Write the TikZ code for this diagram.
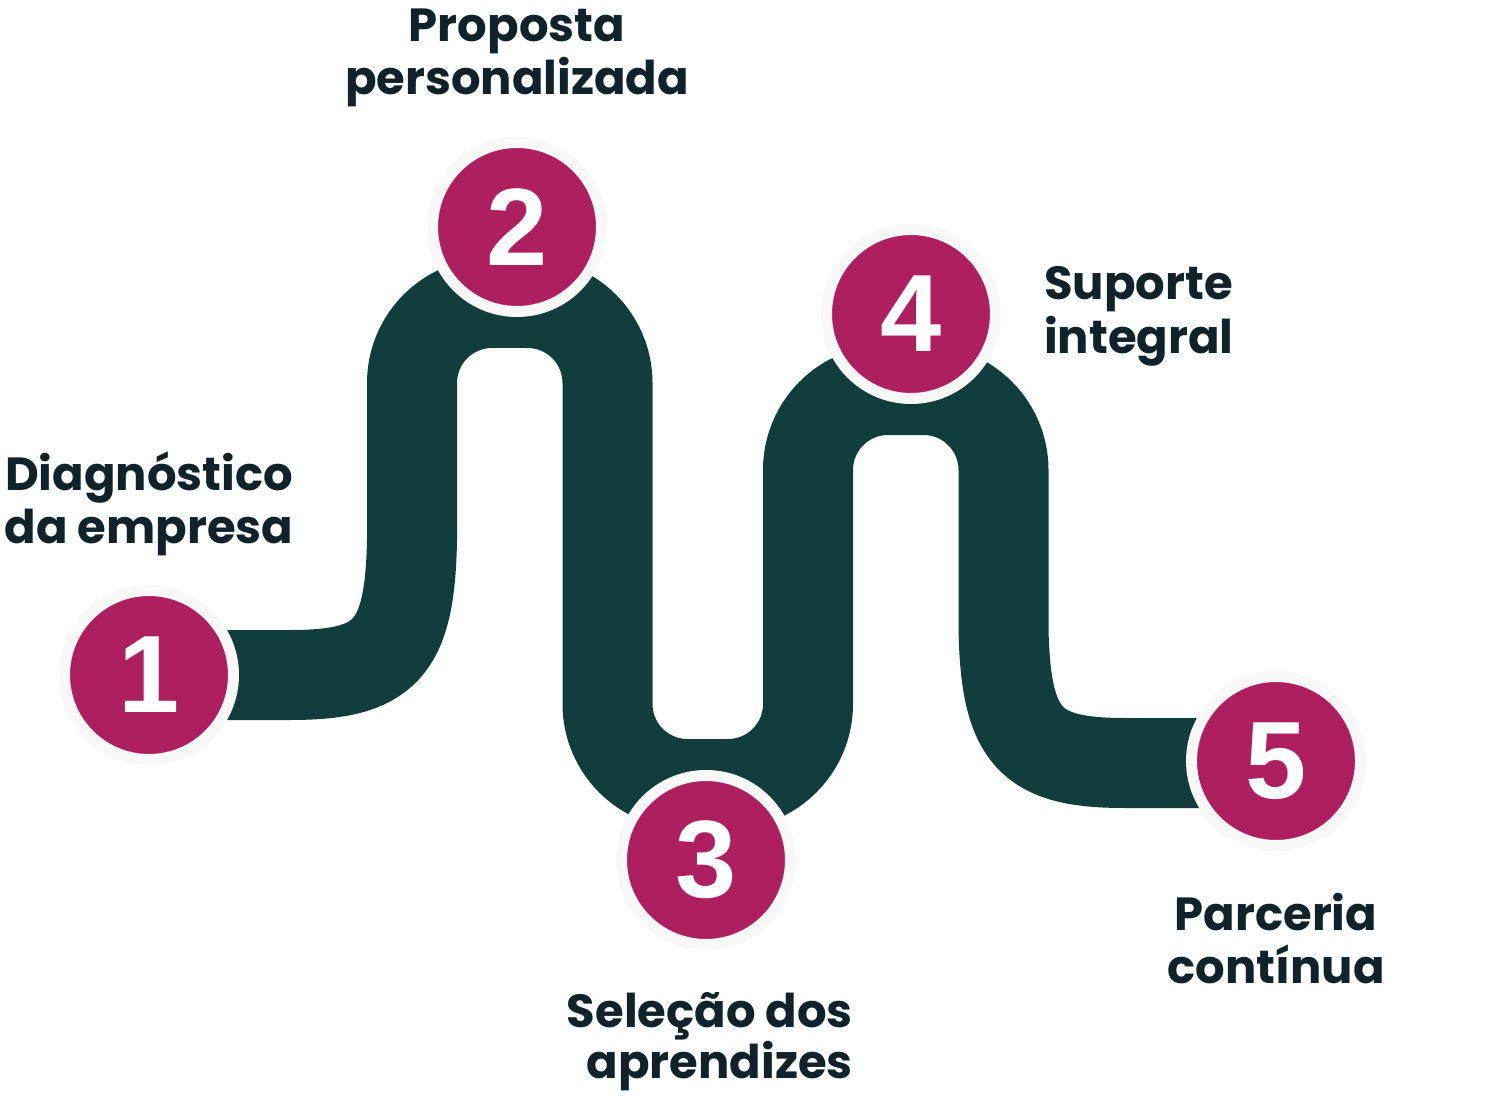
\documentclass[tikz,border=0pt]{standalone}
\usepackage{fontspec}
\setmainfont{Poppins}
\newfontfamily\numfont{Liberation Sans}
\definecolor{bandcol}{HTML}{123D3D}
\definecolor{mag}{HTML}{AE1F5F}
\definecolor{ringcol}{HTML}{F8F8F8}
\definecolor{ink}{HTML}{10232A}
\begin{document}
\begin{tikzpicture}[x=1pt,y=-1pt,
  bandline/.style={draw=bandcol, line width=90pt},
  stepnum/.style={circle, fill=mag, draw=ringcol, line width=11pt, minimum size=169pt, inner sep=0pt, text=white, font=\numfont\bfseries\fontsize{110}{110}\selectfont},
  lab/.style={text=ink, font=\bfseries\fontsize{46.5}{46.5}\selectfont, inner sep=0pt}]
\useasboundingbox (0,0) rectangle (1489,1099);
\coordinate (p1) at (149,675);
\coordinate (p2) at (517,227);
\coordinate (p3) at (706,860);
\coordinate (p4) at (911,314);
\coordinate (p5) at (1276,761);
\draw[bandline] (p1) -- (290,675) .. controls (385,675) and (410,650) .. (412,540)
  -- (412,383) arc[start angle=180,end angle=270,radius=80]
  -- (527.5,303) arc[start angle=270,end angle=360,radius=80]
  -- (607.5,704) arc[start angle=180,end angle=90,radius=80]
  -- (728,784) arc[start angle=90,end angle=0,radius=80]
  -- (808,470) arc[start angle=180,end angle=270,radius=80]
  -- (923.5,390) arc[start angle=270,end angle=360,radius=80]
  -- (1003.5,628) .. controls (1005.5,738) and (1030.5,763) .. (1125,763) -- (1276,763);
\node[stepnum] (n1) at (p1) {1};
\node[stepnum] (n2) at (p2) {2};
\node[stepnum] (n3) at (p3) {3};
\node[stepnum] (n4) at (p4) {4};
\node[stepnum] (n5) at (p5) {5};
\node[lab, anchor=base] (l1a) at (149,490) {Diagnóstico};
\node[lab, anchor=base] (l1b) at (149,543) {da empresa};
\node[lab, anchor=base] (l2a) at (517,42) {Proposta};
\node[lab, anchor=base] (l2b) at (517,95) {personalizada};
\node[lab, anchor=base east] (l3a) at (853,1027) {Seleção dos};
\node[lab, anchor=base east] (l3b) at (853,1078) {aprendizes};
\node[lab, anchor=base west] (l4a) at (1044,300) {Suporte};
\node[lab, anchor=base west] (l4b) at (1044,353) {integral};
\node[lab, anchor=base] (l5a) at (1276,930) {Parceria};
\node[lab, anchor=base] (l5b) at (1276,983) {contínua};
\end{tikzpicture}
\end{document}
